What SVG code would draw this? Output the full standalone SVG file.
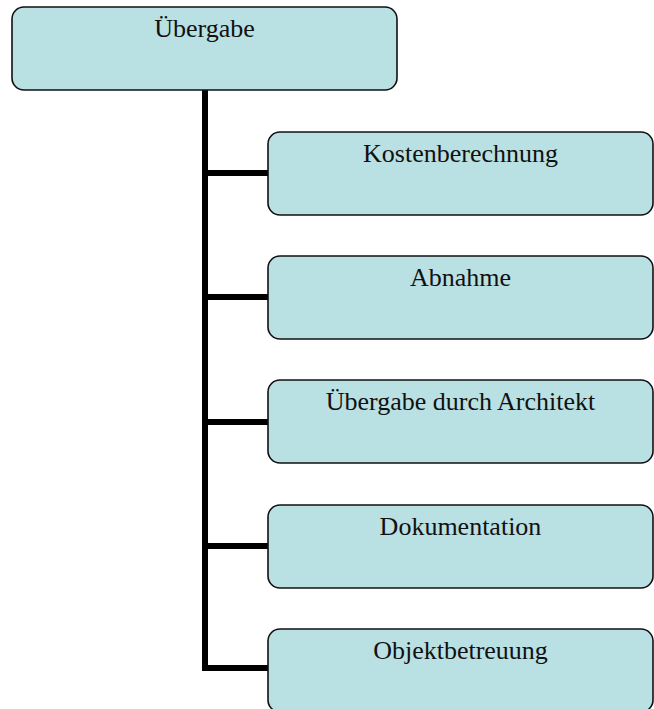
<svg xmlns="http://www.w3.org/2000/svg" width="654" height="709" viewBox="0 0 654 709">
  <style>
    .box { fill: #B9E0E3; stroke: #111; stroke-width: 1.6; }
    .label { font-family: "Liberation Serif", "Times New Roman", serif; font-size: 26px; fill: #111; text-anchor: middle; }
    .link { fill: none; stroke: #000; stroke-width: 6; }
  </style>

  <!-- tree connectors: trunk from the root plus one branch per child -->
  <g id="connectors">
    <path class="link" d="M205,90 V671"/>
    <path class="link" d="M202,173 H268"/>
    <path class="link" d="M202,297 H268"/>
    <path class="link" d="M202,422 H268"/>
    <path class="link" d="M202,546 H268"/>
    <path class="link" d="M202,668 H268"/>
  </g>

  <g id="root">
    <rect class="box" x="12" y="7" width="385" height="83" rx="12"/>
    <text class="label" x="204.5" y="37">Übergabe</text>
  </g>

  <g id="kostenberechnung">
    <rect class="box" x="268" y="132" width="385" height="83" rx="12"/>
    <text class="label" x="460.5" y="162">Kostenberechnung</text>
  </g>

  <g id="abnahme">
    <rect class="box" x="268" y="256" width="385" height="83" rx="12"/>
    <text class="label" x="460.5" y="286">Abnahme</text>
  </g>

  <g id="uebergabe-architekt">
    <rect class="box" x="268" y="380" width="385" height="83" rx="12"/>
    <text class="label" x="460.5" y="410">Übergabe durch Architekt</text>
  </g>

  <g id="dokumentation">
    <rect class="box" x="268" y="505" width="385" height="83" rx="12"/>
    <text class="label" x="460.5" y="535">Dokumentation</text>
  </g>

  <g id="objektbetreuung">
    <rect class="box" x="268" y="629" width="385" height="83" rx="12"/>
    <text class="label" x="460.5" y="659">Objektbetreuung</text>
  </g>
</svg>
